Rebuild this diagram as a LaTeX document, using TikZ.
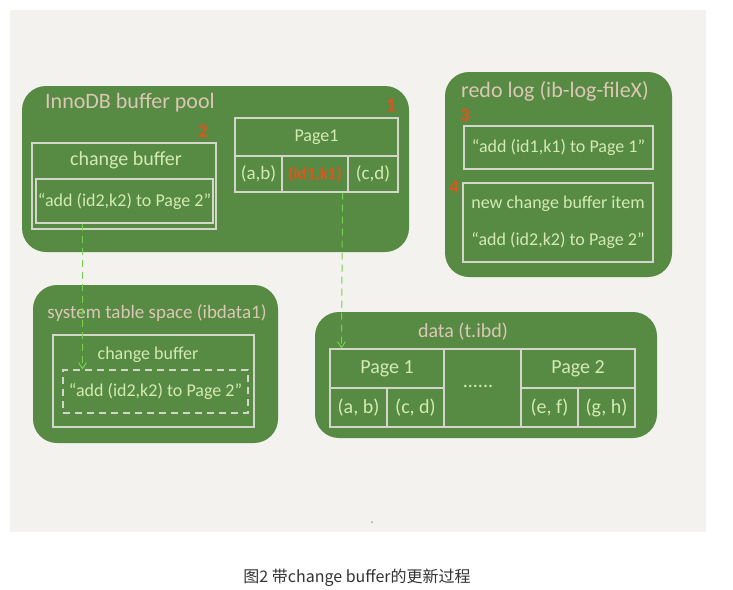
\documentclass[tikz,border=0pt]{standalone}
\usepackage{fontspec}
\setmainfont{Carlito}
\newfontfamily\cjk{Noto Sans CJK SC}
\usetikzlibrary{arrows.meta}
\definecolor{bgpanel}{HTML}{F4F2EE}
\definecolor{boxgreen}{HTML}{578A43}
\definecolor{linegray}{HTML}{D4D6CC}
\definecolor{txtgreen}{HTML}{D3EBB0}
\definecolor{txtbeige}{HTML}{DCC7B6}
\definecolor{numred}{HTML}{E2531D}
\definecolor{arrowgreen}{HTML}{72D24C}
\definecolor{captiongray}{HTML}{333333}
\newcommand{\fs}[1]{\fontsize{#1}{#1}\selectfont}
\tikzset{
  greenbox/.style={fill=boxgreen, draw=none, rounded corners=24pt, inner sep=0pt},
  linebox/.style={draw=linegray, line width=1.1pt, inner sep=0pt},
  dashbox/.style={draw=linegray, line width=1.1pt, dash pattern=on 7pt off 5pt, inner sep=0pt},
  titletxt/.style={text=txtbeige, font=\fs{22}, inner sep=0pt},
  bodytxt/.style={text=txtgreen, font=\fs{19}, inner sep=0pt},
  numtxt/.style={text=numred, font=\bfseries\fs{19}, inner sep=0pt},
  flow/.style={draw=arrowgreen, line width=1pt, dash pattern=on 7pt off 5pt, -{Straight Barb[length=6pt,width=8pt]}},
}
\begin{document}
\begin{tikzpicture}[x=1pt,y=-1pt]
\useasboundingbox (0,0) rectangle (733,589);
\fill[white] (0,0) rectangle (733,589);
\fill[bgpanel] (10,10) rectangle (706,532);
\fill[gray!70] (372,522) circle (1pt);

% ---------- InnoDB buffer pool ----------
\node[greenbox, minimum width=387pt, minimum height=166pt] (pool) at (215.5,169) {};
\node[titletxt, anchor=west] (pooltitle) at (45,103) {InnoDB buffer pool};
\node[linebox, minimum width=184pt, minimum height=86pt] (cbout) at (124,186) {};
\node[bodytxt, font=\fs{20}] (cbtitle) at (126,160) {change buffer};
\node[linebox, minimum width=177pt, minimum height=44pt] (cbin) at (124.5,201) {};
\node[bodytxt, font=\fs{18}] (cbtext) at (cbin.center) {“add (id2,k2) to Page 2”};
\node[numtxt] (n2) at (203,131) {2};

\node[linebox, minimum width=163pt, minimum height=38pt] (p1head) at (316.5,137) {};
\node[bodytxt, font=\fs{18}] (p1headtxt) at (p1head.center) {Page1};
\node[linebox, minimum width=47pt, minimum height=36pt] (p1ab) at (258.5,174) {};
\node[bodytxt] at (p1ab.center) {(a,b)};
\node[linebox, minimum width=66pt, minimum height=36pt] (p1id) at (315,174) {};
\node[bodytxt, font=\bfseries\fs{17}, text=numred] at (p1id.center) {(id1,k1)};
\node[linebox, minimum width=50pt, minimum height=36pt] (p1cd) at (373,174) {};
\node[bodytxt] at (p1cd.center) {(c,d)};
\node[numtxt] (n1) at (391,105) {1};

% ---------- redo log ----------
\node[greenbox, minimum width=227pt, minimum height=205pt] (redo) at (558.5,174.5) {};
\node[titletxt] (redotitle) at (555,91) {redo log (ib-log-fileX)};
\node[numtxt] (n3) at (465,115) {3};
\node[linebox, minimum width=189pt, minimum height=43pt] (redoA) at (558.5,147.5) {};
\node[bodytxt, font=\fs{18}] at (redoA.center) {“add (id1,k1) to Page 1”};
\node[numtxt] (n4) at (454,187) {4};
\node[linebox, minimum width=190pt, minimum height=79pt] (redoB) at (558,222.5) {};
\node[bodytxt, font=\fs{18}] at (558,204) {new change buffer item};
\node[bodytxt, font=\fs{18}] at (558,240) {“add (id2,k2) to Page 2”};

% ---------- system table space ----------
\node[greenbox, minimum width=245pt, minimum height=158pt] (sys) at (155.5,364) {};
\node[titletxt, font=\fs{19}] (systitle) at (157,313) {system table space (ibdata1)};
\node[linebox, minimum width=201pt, minimum height=92pt] (sysin) at (153.5,381) {};
\node[bodytxt, font=\fs{18}] (syscb) at (148,355) {change buffer};
\node[dashbox, minimum width=185pt, minimum height=43pt] (sysdash) at (155.5,391.5) {};
\node[bodytxt, font=\fs{18}] at (sysdash.center) {“add (id2,k2) to Page 2”};

% ---------- data ----------
\node[greenbox, minimum width=342pt, minimum height=126pt] (data) at (486,375) {};
\node[titletxt, font=\fs{20}] (datatitle) at (463,332) {data (t.ibd)};
\node[linebox, minimum width=114pt, minimum height=39pt] (dp1) at (387,368.5) {};
\node[bodytxt, font=\fs{20}] at (dp1.center) {Page 1};
\node[linebox, minimum width=57pt, minimum height=39pt] (dab) at (358.5,407.5) {};
\node[bodytxt, font=\fs{20}] at (dab.center) {(a, b)};
\node[linebox, minimum width=57pt, minimum height=39pt] (dcd) at (415.5,407.5) {};
\node[bodytxt, font=\fs{20}] at (dcd.center) {(c, d)};
\node[linebox, minimum width=77pt, minimum height=78pt] (dmid) at (482.5,388) {};
\node[bodytxt, font=\fs{20}] at (478,386) {......};
\node[linebox, minimum width=114pt, minimum height=39pt] (dp2) at (578,368.5) {};
\node[bodytxt, font=\fs{20}] at (dp2.center) {Page 2};
\node[linebox, minimum width=57pt, minimum height=39pt] (def) at (549.5,407.5) {};
\node[bodytxt, font=\fs{20}] at (def.center) {(e, f)};
\node[linebox, minimum width=57pt, minimum height=39pt] (dgh) at (606.5,407.5) {};
\node[bodytxt, font=\fs{20}] at (dgh.center) {(g, h)};

% ---------- flows ----------
\draw[flow] ([xshift=47pt]cbin.south west) -- ([xshift=20pt]sysdash.north west);
\draw[flow] ([xshift=-6pt]p1id.south east) -- ([xshift=12pt]dp1.north west);

% ---------- caption ----------
\node[text=captiongray, font=\cjk\fs{16}] (caption) at (357,578) {图2 带change buffer的更新过程};
\end{tikzpicture}
\end{document}
